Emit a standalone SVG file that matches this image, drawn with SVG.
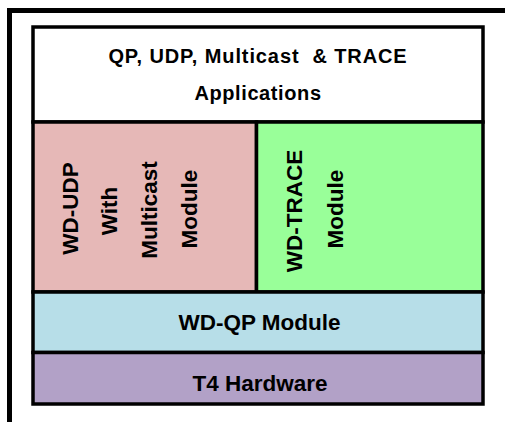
<svg xmlns="http://www.w3.org/2000/svg" width="505" height="422" viewBox="0 0 505 422">
<style>
.box{stroke:#000;stroke-width:3.5}
.t{font-family:"Liberation Sans",Arial,sans-serif;font-weight:bold;fill:#000;text-anchor:middle}
.big{font-size:22.5px}
.top{font-size:20px;letter-spacing:0.9px}
.app{font-size:20px;letter-spacing:0.6px}
</style>
<rect x="0" y="0" width="505" height="422" fill="#fff"/>
<rect x="9.5" y="10.5" width="600" height="600" fill="none" stroke="#000" stroke-width="5"/>
<g id="apps">
<rect class="box" x="33" y="27" width="450" height="95" fill="#fff"/>
<text class="t top" x="258" y="63">QP, UDP, Multicast &#160;&amp; TRACE</text>
<text class="t app" x="258" y="100">Applications</text>
</g>
<g id="wd-udp">
<rect class="box" x="33" y="122" width="223.5" height="170" fill="#E6B8B7"/>
<text class="t big" transform="translate(78,208.5) rotate(-90)">WD-UDP</text>
<text class="t big" transform="translate(117,211) rotate(-90)">With</text>
<text class="t big" transform="translate(157,210) rotate(-90)">Multicast</text>
<text class="t big" transform="translate(197,209) rotate(-90)">Module</text>
</g>
<g id="wd-trace">
<rect class="box" x="256.5" y="122" width="226.5" height="170" fill="#99FF99"/>
<text class="t big" transform="translate(302,211) rotate(-90)">WD-TRACE</text>
<text class="t big" transform="translate(343,209) rotate(-90)">Module</text>
</g>
<g id="wd-qp">
<rect class="box" x="33" y="292" width="450" height="60.5" fill="#B7DEE8"/>
<text class="t big" x="259.5" y="330">WD-QP Module</text>
</g>
<g id="t4">
<rect class="box" x="33" y="352.5" width="450" height="51.5" fill="#B2A1C7"/>
<text class="t big" x="260" y="391">T4 Hardware</text>
</g>
<g id="connectors"/>
</svg>
